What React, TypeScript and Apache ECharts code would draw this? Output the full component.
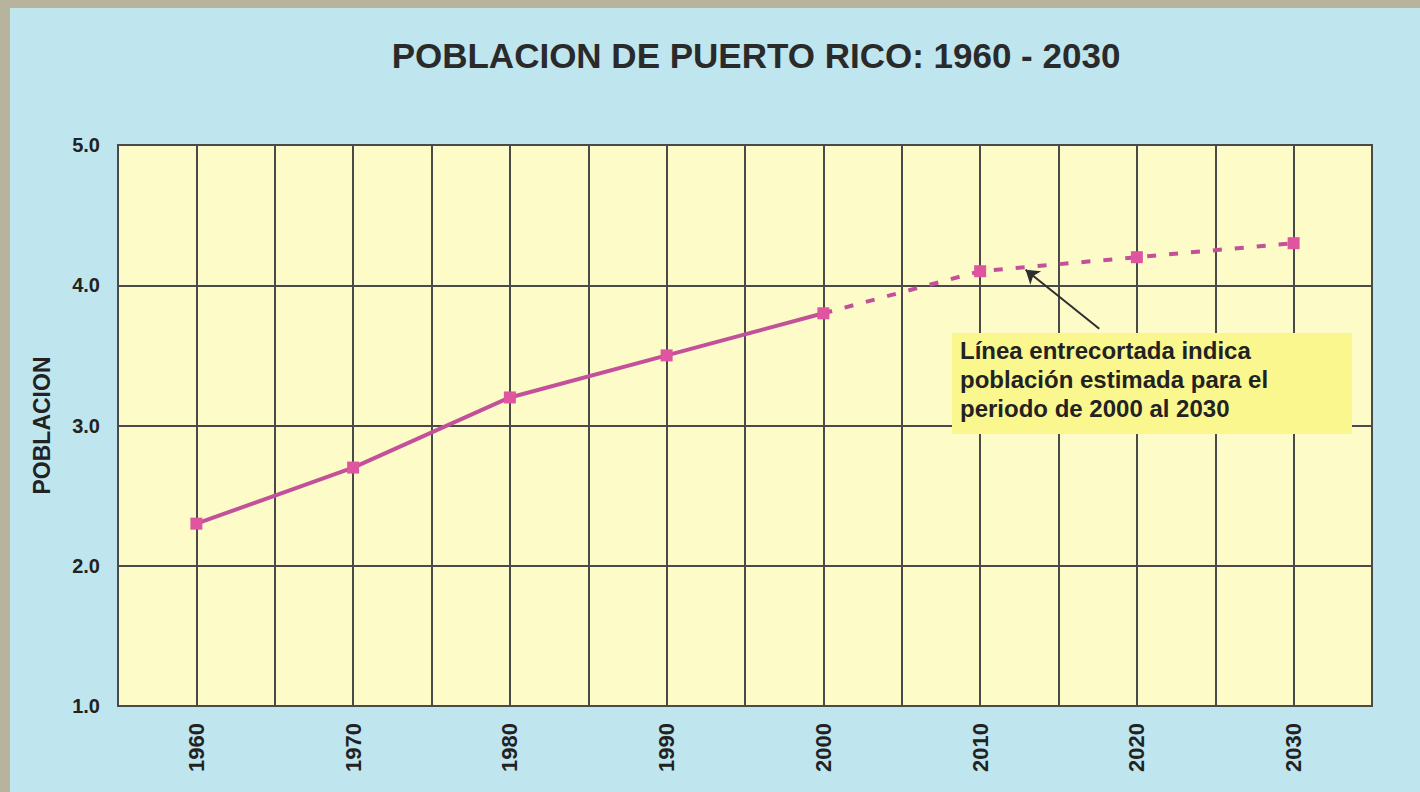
import React, { useEffect, useRef } from "react";
import * as echarts from "echarts";

// Census years and population (millions)
const censusYears = [1960, 1970, 1980, 1990, 2000];
const censusValues = [2.3, 2.7, 3.2, 3.5, 3.8];

// Projected population (millions)
const projectedYears = [2000, 2010, 2020, 2030];
const projectedValues = [3.8, 4.1, 4.2, 4.3];

const titleText = "POBLACION DE PUERTO RICO: 1960 - 2030";
const yAxisName = "POBLACION";
const noteLines = [
  "Línea entrecortada indica",
  "población estimada para el",
  "periodo de 2000 al 2030",
];

// Annotation arrow (tail -> head), in data units
const arrowTail = [2017.6, 3.69];
const arrowHead = [2012.9, 4.11];

const FONT = "'Liberation Sans', Arial, Helvetica, sans-serif";
const LINE_COLOR = "#c2519a";
const MARK_COLOR = "#e0559f";
const GRID_COLOR = "#4a4a4a";

export default function App() {
  const ref = useRef<HTMLDivElement>(null);

  useEffect(() => {
    if (!ref.current) return;
    const chart = echarts.init(ref.current, undefined, { renderer: "svg" });

    const census = censusYears.map((y, i) => [y, censusValues[i]]);
    const projected = projectedYears.map((y, i) =>
      i === 0
        ? { value: [y, projectedValues[i]], symbol: "none" }
        : { value: [y, projectedValues[i]] }
    );

    chart.setOption({
      animation: false,
      backgroundColor: "#bfe6ef",
      grid: {
        left: 108,
        right: 48,
        top: 137,
        bottom: 86,
        show: true,
        backgroundColor: "#fdfbc8",
        borderColor: GRID_COLOR,
        borderWidth: 2,
      },
      xAxis: {
        type: "value",
        min: 1955,
        max: 2035,
        interval: 5,
        axisLine: { show: true, lineStyle: { color: GRID_COLOR, width: 2 } },
        axisTick: { show: false },
        splitLine: { show: true, lineStyle: { color: GRID_COLOR, width: 2 } },
        axisLabel: {
          rotate: 90,
          margin: 17,
          fontFamily: FONT,
          fontWeight: "bold",
          fontSize: 22,
          color: "#222",
          formatter: (v: number) => (v % 10 === 0 ? String(v) : ""),
        },
      },
      yAxis: {
        type: "value",
        min: 1,
        max: 5,
        interval: 1,
        name: yAxisName,
        nameLocation: "middle",
        nameRotate: 90,
        nameGap: 65,
        nameTextStyle: {
          fontFamily: FONT,
          fontWeight: "bold",
          fontSize: 23,
          color: "#222",
        },
        axisLine: { show: true, lineStyle: { color: GRID_COLOR, width: 2 } },
        axisTick: { show: false },
        splitLine: { show: true, lineStyle: { color: GRID_COLOR, width: 2 } },
        axisLabel: {
          margin: 18,
          fontFamily: FONT,
          fontWeight: "bold",
          fontSize: 20,
          color: "#222",
          formatter: (v: number) => v.toFixed(1),
        },
      },
      series: [
        {
          type: "line",
          data: census,
          symbol: "rect",
          symbolSize: 12,
          lineStyle: { color: LINE_COLOR, width: 4 },
          itemStyle: { color: MARK_COLOR },
          z: 5,
        },
        {
          type: "line",
          data: projected,
          symbol: "rect",
          symbolSize: 12,
          lineStyle: { color: LINE_COLOR, width: 4, type: [9, 13] },
          itemStyle: { color: MARK_COLOR },
          z: 5,
          markLine: {
            silent: true,
            animation: false,
            symbolSize: 13,
            label: { show: false },
            lineStyle: { color: "#2e2e2e", width: 2, type: "solid" },
            data: [
              [
                { coord: arrowTail, symbol: "none" },
                { coord: arrowHead, symbol: "arrow" },
              ],
            ],
          },
        },
      ],
      graphic: [
        {
          type: "text",
          x: 746,
          y: 47,
          z: 10,
          style: {
            text: titleText,
            fontFamily: FONT,
            fontWeight: "bold",
            fontSize: 35,
            fill: "#2a2a2a",
            align: "center",
            verticalAlign: "middle",
          },
        },
        {
          type: "group",
          z: 100,
          children: [
            {
              type: "rect",
              shape: { x: 942, y: 325, width: 400, height: 101 },
              style: { fill: "#faf78e" },
              z: 100,
            },
            {
              type: "text",
              x: 950,
              y: 328,
              z: 101,
              style: {
                text: noteLines.join("\n"),
                fontFamily: FONT,
                fontWeight: "bold",
                fontSize: 24,
                lineHeight: 29,
                fill: "#222",
                align: "left",
                verticalAlign: "top",
              },
            },
          ],
        },
      ],
    });

    return () => chart.dispose();
  }, []);

  return (
    <div
      style={{
        position: "fixed",
        left: 0,
        top: 0,
        width: 1420,
        height: 792,
        background: "#b8b39c",
      }}
    >
      <div
        ref={ref}
        style={{ position: "absolute", left: 10, top: 8, width: 1410, height: 784 }}
      />
    </div>
  );
}
